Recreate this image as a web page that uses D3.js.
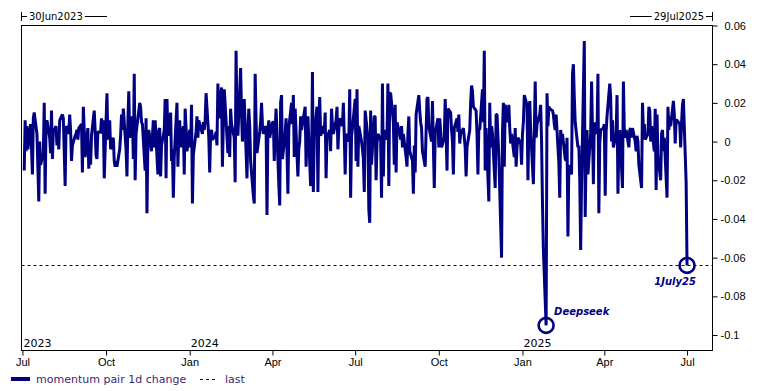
<!DOCTYPE html>
<html>
<head>
<meta charset="utf-8">
<script src="https://cdn.jsdelivr.net/npm/d3@7"></script>
<style>
body { margin: 0; background: #fff; }
svg { display: block; font-family: "DejaVu Sans", Verdana, sans-serif; }
</style>
</head>
<body>
<script>
var seriesName = "momentum pair 1d change";
var lastName = "last";
var firstDay = "2023-07-03";
var lastDay = "2025-07-01";
var axisStart = "2023-06-30";
var axisEnd = "2025-07-29";
var rangeLabels = ["30Jun2023", "29Jul2025"];

// one value per trading day, 3 Jul 2023 .. 1 Jul 2025 (rows of 10)
var values = [
  -0.015, 0.011, -0.005, 0.008, -0.004, 0.009, -0.003, -0.017, 0.012, 0.015,
  0.004, -0.013, -0.031, 0.000, -0.012, -0.006, 0.020, -0.027, 0.009, 0.011,
  0.002, -0.006, 0.016, -0.009, 0.005, 0.008, -0.002, 0.005, -0.004, 0.011,
  0.014, 0.012, -0.005, -0.023, 0.008, 0.004, 0.014, 0.006, -0.010, -0.002,
  0.003, 0.004, 0.006, 0.001, 0.007, 0.009, -0.016, 0.018, 0.006, -0.008,
  0.007, -0.014, -0.003, -0.012, 0.003, 0.016, 0.006, -0.007, -0.009, 0.005,
  0.005, 0.012, 0.004, 0.011, -0.019, 0.025, 0.001, 0.009, 0.011, -0.004,
  0.002, -0.010, -0.013, -0.010, -0.013, -0.004, 0.003, 0.014, 0.006, 0.017,
  -0.004, -0.018, 0.010, 0.026, 0.002, 0.013, -0.009, 0.035, -0.020, 0.004,
  0.016, 0.020, 0.018, 0.010, 0.009, -0.015, 0.012, -0.037, 0.000, 0.006,
  -0.005, 0.003, 0.011, -0.003, 0.011, -0.017, 0.006, 0.007, -0.018, -0.002,
  0.006, 0.022, -0.019, 0.022, 0.003, 0.015, -0.010, -0.004, -0.029, -0.008,
  0.020, -0.013, 0.004, 0.011, -0.003, 0.008, -0.017, 0.017, 0.007, -0.005,
  0.006, -0.003, 0.019, -0.032, -0.007, 0.005, 0.013, 0.002, 0.011, 0.009,
  0.004, 0.010, 0.006, 0.011, 0.025, 0.002, -0.016, 0.004, 0.006, 0.001,
  0.003, 0.005, -0.002, 0.030, 0.012, 0.028, -0.013, 0.010, 0.027, 0.019,
  -0.006, 0.008, -0.008, 0.017, 0.009, 0.002, -0.021, 0.047, 0.010, 0.003,
  0.038, 0.015, 0.000, 0.009, 0.022, -0.019, 0.005, 0.017, 0.008, -0.010,
  -0.028, -0.032, 0.035, 0.011, -0.006, 0.005, 0.010, 0.020, 0.009, 0.004,
  0.008, -0.038, 0.005, 0.011, 0.002, 0.010, 0.010, -0.010, 0.006, 0.017,
  -0.022, -0.033, 0.020, 0.024, -0.009, 0.004, 0.012, -0.005, -0.027, 0.007,
  0.020, 0.009, 0.024, -0.008, 0.017, -0.018, -0.004, 0.000, 0.013, 0.006,
  0.015, 0.018, -0.013, 0.004, 0.013, -0.023, -0.015, 0.036, -0.026, 0.003,
  0.018, -0.026, 0.010, 0.023, 0.003, 0.008, 0.004, 0.015, -0.019, 0.002,
  0.006, -0.005, 0.017, 0.008, 0.004, 0.011, 0.018, -0.004, 0.006, 0.012,
  0.008, 0.020, 0.003, -0.017, 0.004, 0.000, 0.027, -0.029, 0.003, 0.007,
  0.022, -0.010, 0.027, -0.013, 0.008, 0.000, -0.004, -0.009, -0.026, 0.016,
  0.002, -0.035, -0.042, 0.016, -0.012, 0.013, 0.013, -0.020, -0.001, 0.004,
  0.001, -0.029, 0.030, -0.018, 0.006, 0.001, 0.030, -0.023, 0.025, 0.025,
  0.010, -0.012, 0.019, -0.016, 0.010, 0.004, 0.001, 0.008, -0.003, 0.004,
  -0.008, -0.013, 0.004, 0.013, -0.005, -0.010, -0.027, -0.002, -0.016, 0.014,
  0.024, 0.016, 0.010, 0.007, -0.005, -0.013, 0.005, 0.022, 0.023, 0.008,
  0.000, 0.021, -0.002, -0.024, 0.004, 0.012, -0.003, 0.012, 0.005, -0.003,
  0.002, 0.022, 0.004, -0.015, 0.017, 0.015, 0.006, 0.000, -0.017, 0.007,
  0.012, 0.005, 0.014, -0.001, 0.004, 0.007, 0.002, -0.003, -0.018, -0.003,
  0.006, 0.020, 0.029, 0.026, 0.018, 0.016, 0.004, -0.017, 0.007, 0.006,
  0.027, 0.010, 0.047, -0.015, 0.007, -0.031, 0.020, -0.003, 0.008, 0.004,
  -0.024, 0.014, 0.014, 0.003, -0.008, -0.060, 0.005, 0.020, -0.013, 0.019,
  0.010, 0.019, 0.007, -0.001, 0.004, -0.008, 0.007, -0.013, -0.003, 0.002,
  -0.001, -0.012, 0.004, 0.010, 0.024, 0.019, -0.020, 0.008, 0.021, 0.006,
  -0.022, 0.004, 0.031, 0.002, 0.009, 0.014, 0.019, 0.000, -0.032, -0.056,
  -0.095, 0.025, 0.008, 0.018, 0.017, 0.016, 0.014, 0.009, 0.006, 0.014,
  -0.011, -0.029, 0.006, 0.001, 0.004, -0.009, -0.010, 0.002, -0.049, -0.012,
  -0.017, 0.035, 0.040, 0.023, 0.010, -0.003, -0.002, -0.020, -0.056, -0.022,
  0.052, -0.039, -0.005, 0.006, -0.017, 0.004, 0.031, 0.006, -0.022, 0.010,
  0.004, 0.035, -0.037, -0.001, 0.006, 0.007, 0.009, -0.028, 0.005, 0.013,
  0.030, 0.023, 0.000, 0.011, -0.003, 0.004, 0.024, -0.027, 0.000, 0.006,
  -0.024, 0.031, 0.006, 0.002, 0.006, -0.003, 0.006, 0.007, 0.002, 0.007,
  0.000, -0.005, 0.003, 0.000, -0.012, -0.024, 0.020, 0.006, 0.009, 0.001,
  0.004, 0.018, 0.016, 0.000, 0.008, -0.005, 0.017, -0.025, 0.014, -0.008,
  -0.020, 0.004, 0.006, -0.005, 0.002, -0.029, 0.018, 0.006, 0.013, 0.008,
  0.021, 0.014, -0.001, 0.011, 0.011, 0.009, -0.003, 0.010, 0.019, 0.022,
  -0.021, -0.064
];

var yTicks = [0.06, 0.04, 0.02, 0, -0.02, -0.04, -0.06, -0.08, -0.1];
var yearTicks = ["2023-07-01", "2024-01-01", "2025-01-01"];
var yearLabels = ["2023", "2024", "2025"];
var noteDates = ["2025-01-27", "2025-07-01"];
var noteTexts = ["Deepseek", "1July25"];

var w = 759, h = 391;
var navy = "#000080";
var parse = d3.timeParse("%Y-%m-%d");

// trading days (weekdays) for the series
var days = d3.timeDay.range(parse(firstDay), d3.timeDay.offset(parse(lastDay), 1))
  .filter(function(d) { return d.getDay() != 0 && d.getDay() != 6; });
var off = days.length - values.length;
var data = values.map(function(v, i) {
  return { date: days[i + off], value: v };
});
var last = data[data.length - 1];

var svg = d3.select("body").append("svg")
  .attr("width", w)
  .attr("height", h);

var x = d3.scaleTime()
  .domain([parse(axisStart), parse(axisEnd)])
  .range([21.5, 712.5]);
var y = d3.scaleLinear()
  .domain([-0.108, 0.06])
  .range([350.5, 25.5]);

// frame
svg.append("rect")
  .attr("x", 21.5).attr("y", 25.5)
  .attr("width", 691).attr("height", 325)
  .attr("fill", "none")
  .attr("stroke", "#000");

// bottom axis
var xAxis = svg.append("g")
  .attr("transform", "translate(0,350.5)")
  .call(d3.axisBottom(x)
    .ticks(d3.timeMonth.every(3))
    .tickFormat(d3.timeFormat("%b"))
    .tickSize(5)
    .tickSizeOuter(0));
xAxis.select(".domain").remove();
xAxis.selectAll("text").attr("font-size", "11px").attr("fill", "#000").attr("font-family", null);
xAxis.selectAll("line").attr("stroke", "#000");

// right axis
var yAxis = svg.append("g")
  .attr("transform", "translate(712.5,0)")
  .call(d3.axisRight(y)
    .tickValues(yTicks)
    .tickSize(5)
    .tickFormat(function(d) { return String(+d.toFixed(2)); }));
yAxis.select(".domain").remove();
yAxis.selectAll("text")
  .attr("font-size", "11px")
  .attr("font-family", null)
  .attr("fill", "#000")
  .attr("x", function(d) { return d < 0 ? 8 : 12; });
yAxis.selectAll("line").attr("stroke", "#000");

// year labels inside the plot
svg.selectAll(".year")
  .data(yearTicks)
  .enter()
  .append("text")
  .attr("x", function(d) { return x(parse(d)) + 1; })
  .attr("y", 347)
  .attr("font-size", "11px")
  .text(function(d, i) { return yearLabels[i]; });

// last value dashed line
svg.append("line")
  .attr("x1", 21.5).attr("x2", 712.5)
  .attr("y1", Math.round(y(last.value)) + 0.5)
  .attr("y2", Math.round(y(last.value)) + 0.5)
  .attr("stroke", navy)
  .attr("stroke-width", 1)
  .attr("stroke-dasharray", "3,3");

// series
var line = d3.line()
  .x(function(d) { return x(d.date); })
  .y(function(d) { return y(d.value); });
svg.append("path")
  .datum(data)
  .attr("d", line)
  .attr("fill", "none")
  .attr("stroke", navy)
  .attr("stroke-width", 3)
  .attr("stroke-linejoin", "bevel");

// annotations
var noteDx = [8, -12], noteDy = [-10, 20], noteAnchor = ["start", "middle"];
noteDates.forEach(function(nd, i) {
  var p = data.find(function(d) { return +d.date == +parse(nd); });
  svg.append("circle")
    .attr("cx", x(p.date)).attr("cy", y(p.value))
    .attr("r", 7.5)
    .attr("fill", "none")
    .attr("stroke", navy)
    .attr("stroke-width", 2.6);
  svg.append("text")
    .attr("x", x(p.date) + noteDx[i])
    .attr("y", y(p.value) + noteDy[i])
    .attr("text-anchor", noteAnchor[i])
    .attr("font-size", "10px")
    .attr("font-weight", "bold")
    .attr("font-style", "italic")
    .attr("fill", navy)
    .text(noteTexts[i]);
});

// date range markers above the frame
var t0 = svg.append("text")
  .attr("x", 29).attr("y", 20)
  .attr("font-size", "10px")
  .text(rangeLabels[0]);
var e0 = 29 + t0.node().getComputedTextLength();
svg.append("path")
  .attr("d", "M21.5,12V21M21.5,16.5H27M" + (e0 + 2) + ",16.5H107")
  .attr("stroke", "#000").attr("fill", "none");

var t1 = svg.append("text")
  .attr("x", 704).attr("y", 20)
  .attr("font-size", "10px")
  .attr("text-anchor", "end")
  .text(rangeLabels[1]);
var s1 = 704 - t1.node().getComputedTextLength();
svg.append("path")
  .attr("d", "M712.5,12V21M712.5,16.5H706M" + (s1 - 2) + ",16.5H630")
  .attr("stroke", "#000").attr("fill", "none");

// legend
var legColor = "#3d1f7a";
svg.append("line")
  .attr("x1", 11).attr("x2", 30)
  .attr("y1", 379).attr("y2", 379)
  .attr("stroke", navy).attr("stroke-width", 4);
svg.append("text")
  .attr("x", 36).attr("y", 383)
  .attr("font-size", "11px")
  .attr("fill", legColor)
  .text(seriesName);
svg.append("line")
  .attr("x1", 200).attr("x2", 217)
  .attr("y1", 379.5).attr("y2", 379.5)
  .attr("stroke", navy).attr("stroke-width", 1)
  .attr("stroke-dasharray", "3,3");
svg.append("text")
  .attr("x", 225).attr("y", 383)
  .attr("font-size", "11px")
  .attr("fill", legColor)
  .text(lastName);
</script>
</body>
</html>
